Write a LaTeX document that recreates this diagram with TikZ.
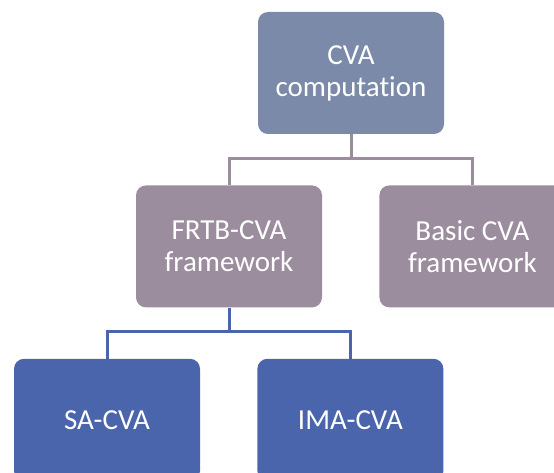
\documentclass[tikz,border=0pt]{standalone}
\usepackage{fontspec}
\setmainfont{Carlito}[Ligatures=NoCommon]
\usetikzlibrary{positioning}
\definecolor{topfill}{RGB}{122,138,168}
\definecolor{midfill}{RGB}{155,141,158}
\definecolor{lowfill}{RGB}{74,101,172}
\tikzstyle{cvabox} = [rectangle, rounded corners=10pt, minimum width=186pt, minimum height=122pt, text centered, align=center, text=white, font=\fontsize{29}{32}\selectfont]
\tikzstyle{upline} = [line width=3pt, draw=midfill]
\tikzstyle{lowline} = [line width=3pt, draw=lowfill]

\begin{document}
\begin{tikzpicture}[node distance=51pt and 57pt]
\useasboundingbox (0,0) rectangle (554pt,-473pt);

% Nodes
\node (cva) [cvabox, fill=topfill] at (351pt,-73pt) {CVA\\computation};
\node (frtb) [cvabox, fill=midfill, below=of cva, xshift=-122pt] {FRTB-CVA\\framework};
\node (basic) [cvabox, fill=midfill, right=of frtb] {Basic CVA\\framework};
\node (sa) [cvabox, fill=lowfill, below=of frtb, xshift=-122pt] {SA-CVA};
\node (ima) [cvabox, fill=lowfill, right=of sa] {IMA-CVA};
\node (topjoin) [coordinate, below=24pt of cva] {};
\node (lowjoin) [coordinate, below=24pt of frtb] {};

% Lines
\draw [upline] (cva) -- (topjoin);
\draw [upline] (topjoin) -| (frtb);
\draw [upline] (topjoin) -| (basic);
\draw [lowline] (frtb) -- (lowjoin);
\draw [lowline] (lowjoin) -| (sa);
\draw [lowline] (lowjoin) -| (ima);

\end{tikzpicture}
\end{document}
